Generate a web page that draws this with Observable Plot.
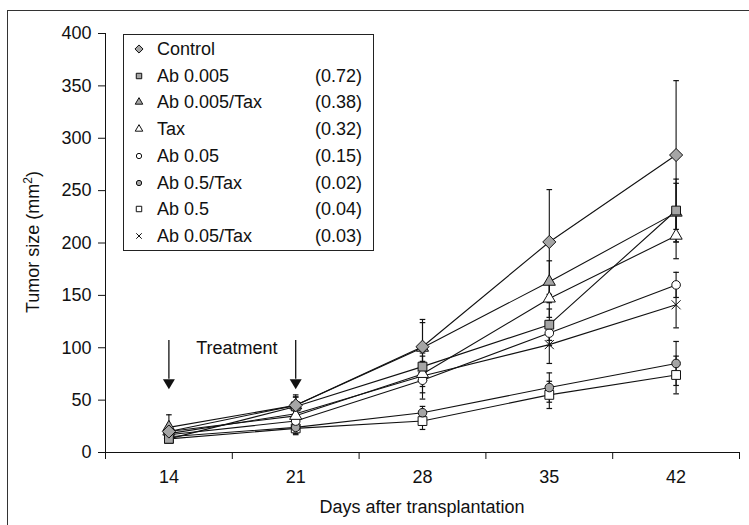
<!DOCTYPE html>
<html><head><meta charset="utf-8">
<script src="https://cdn.jsdelivr.net/npm/d3@7"></script>
<script src="https://cdn.jsdelivr.net/npm/@observablehq/plot@0.6"></script>
<style>
body{margin:0;background:#fff;font-family:"Liberation Sans",Arial,sans-serif;color:#111;}
#wrap{position:relative;width:749px;height:525px;overflow:hidden;background:#fff;}
#frame{position:absolute;left:7px;top:10px;width:800px;height:600px;border-left:1px solid #333;border-top:1px solid #333;}
#chart{position:absolute;left:0;top:0;}
#legend{position:absolute;left:123px;top:34px;width:249px;height:215px;border:1px solid #222;background:#fff;font-size:18px;}
.row{position:absolute;left:0;height:20px;line-height:20px;width:100%;}
.row svg{position:absolute;left:7px;top:2px;}
.row .nm{position:absolute;left:33px;}
.row .pv{position:absolute;left:191px;}
#xlabel{position:absolute;left:105px;width:634px;top:497px;text-align:center;font-size:18px;line-height:20px;}
#ylabel{position:absolute;left:33px;top:242px;transform:translate(-50%,-50%) rotate(-90deg);white-space:nowrap;font-size:18px;}
#ylabel sup{font-size:12px;vertical-align:super;line-height:0;}
</style></head><body>
<div id="wrap"><div id="frame"></div><div id="chart"></div><div id="legend"></div>
<div id="xlabel">Days after transplantation</div>
<div id="ylabel">Tumor size (mm<sup>2</sup>)</div></div>
<script>
// ---- data ----
const days = [14, 21, 28, 35, 42];
const bandEdges = [10.5, 17.5, 24.5, 31.5, 38.5, 45.5];
const yTicks = [0, 50, 100, 150, 200, 250, 300, 350, 400];
const seriesNames = ["Control", "Ab 0.005", "Ab 0.005/Tax", "Tax", "Ab 0.05", "Ab 0.5/Tax", "Ab 0.5", "Ab 0.05/Tax"];
const pValues = ["", "(0.72)", "(0.38)", "(0.32)", "(0.15)", "(0.02)", "(0.04)", "(0.03)"];
const control    = [20, 45, 101, 201, 284];
const ab0005     = [13, 44, 82, 122, 231];
const ab0005Tax  = [24, 45, 100, 163, 229];
const tax        = [20, 35, 75, 147, 207];
const ab005      = [17, 30, 69, 114, 160];
const ab05Tax    = [15, 24, 38, 62, 85];
const ab05       = [13, 23, 30, 55, 74];
const ab005Tax   = [18, 37, 73, 103, 141];
const errControl   = [4, 8, 26, 50, 71];
const errAb0005    = [3, 11, 10, 15, 30];
const errAb0005Tax = [12, 8, 24, 20, 28];
const errTax       = [4, 6, 12, 18, 22];
const errAb005     = [3, 5, 12, 12, 12];
const errAb05Tax   = [3, 7, 6, 14, 21];
const errAb05      = [3, 5, 8, 13, 18];
const errAb005Tax  = [3, 6, 22, 18, 22];
const treatmentDays = [14, 21];
const arrowTop = [107, 107];
const arrowBase = [70, 70];
const treatmentLabel = ["Treatment"];
const treatmentX = [17.75];
const treatmentY = [100];

// ---- styles ----
const values = [control, ab0005, ab0005Tax, tax, ab005, ab05Tax, ab05, ab005Tax];
const errs = [errControl, errAb0005, errAb0005Tax, errTax, errAb005, errAb05Tax, errAb05, errAb005Tax];
const GRAY = "#a5a5a5";
const styles = [
  {symbol: d3.symbolDiamond2, fill: GRAY, r: 5.9},
  {symbol: d3.symbolSquare2, fill: GRAY, r: 5.6},
  {symbol: d3.symbolTriangle2, fill: GRAY, r: 5.8},
  {symbol: d3.symbolTriangle2, fill: "white", r: 5.8},
  {symbol: d3.symbolCircle, fill: "white", r: 4.3},
  {symbol: d3.symbolCircle, fill: GRAY, r: 4.3},
  {symbol: d3.symbolSquare2, fill: "white", r: 5.6},
  {symbol: d3.symbolTimes, fill: "none", r: 4.2}
];

const rows = [];
seriesNames.forEach((s, k) => days.forEach((d, i) => rows.push({series: s, k, day: d, value: values[k][i], err: errs[k][i]})));

const cap = {draw(ctx) { ctx.moveTo(-2.8, 0); ctx.lineTo(2.8, 0); }};
const head = {draw(ctx) { ctx.moveTo(-6, 0); ctx.lineTo(6, 0); ctx.lineTo(0, 10); ctx.closePath(); }};

const marks = [
  Plot.ruleY([0], {x1: bandEdges[0], x2: bandEdges[bandEdges.length - 1], stroke: "#111"}),
  Plot.ruleX([bandEdges[0]], {y1: 0, y2: 400, stroke: "#111"}),
  Plot.axisY(yTicks, {tickSize: 7, tickPadding: 7, label: null, fontSize: 18, stroke: "#111"}),
  Plot.axisX(bandEdges, {tickSize: 7, tickFormat: () => "", label: null, stroke: "#111"}),
  Plot.axisX(days, {tickSize: 0, tickPadding: 18, label: null, fontSize: 18}),
  Plot.line(rows, {x: "day", y: "value", z: "series", stroke: "#111", strokeWidth: 1.1}),
  Plot.ruleX(rows, {x: "day", y1: d => d.value - d.err, y2: d => d.value + d.err, stroke: "#111", strokeWidth: 1.1}),
  Plot.dot(rows, {x: "day", y: d => d.value + d.err, symbol: cap, stroke: "#111", strokeWidth: 1.2, r: 3}),
  Plot.dot(rows, {x: "day", y: d => d.value - d.err, symbol: cap, stroke: "#111", strokeWidth: 1.2, r: 3}),
  Plot.ruleX(treatmentDays, {x: d => d, y1: (d, i) => arrowBase[i], y2: (d, i) => arrowTop[i], stroke: "#111", strokeWidth: 1.3}),
  Plot.dot(treatmentDays, {x: d => d, y: (d, i) => arrowBase[i], symbol: head, fill: "#111", stroke: "none", r: 4}),
  Plot.text(treatmentLabel, {x: treatmentX, y: treatmentY, text: d => d, fontSize: 18, fill: "#111"})
];
// dots, drawn last series first so Control sits on top
for (let k = seriesNames.length - 1; k >= 0; k--) {
  const st = styles[k];
  marks.push(Plot.dot(rows.filter(d => d.k === k), {x: "day", y: "value", symbol: st.symbol, r: st.r, fill: st.fill, stroke: "#111", strokeWidth: 1}));
}

const chart = Plot.plot({
  width: 749, height: 525,
  marginLeft: 105, marginRight: 10, marginTop: 33, marginBottom: 73,
  x: {domain: [bandEdges[0], bandEdges[bandEdges.length - 1]]},
  y: {domain: [0, 400]},
  style: {fontFamily: "'Liberation Sans', Arial, sans-serif", fontSize: "18px", color: "#111", background: "transparent"},
  marks
});
document.getElementById("chart").appendChild(chart);

// ---- legend (HTML) ----
const lg = d3.select("#legend");
seriesNames.forEach((s, k) => {
  const st = styles[k];
  const row = lg.append("div").attr("class", "row").style("top", (4 + 26.7 * k) + "px");
  const svg = row.append("svg").attr("width", 16).attr("height", 16);
  const size = Math.PI * (st.r * 0.62) ** 2;
  svg.append("path").attr("transform", "translate(8,8)")
    .attr("d", d3.symbol(st.symbol, size)())
    .attr("fill", st.fill).attr("stroke", "#111").attr("stroke-width", 1);
  row.append("span").attr("class", "nm").text(s);
  row.append("span").attr("class", "pv").text(pValues[k]);
});
</script></body></html>
